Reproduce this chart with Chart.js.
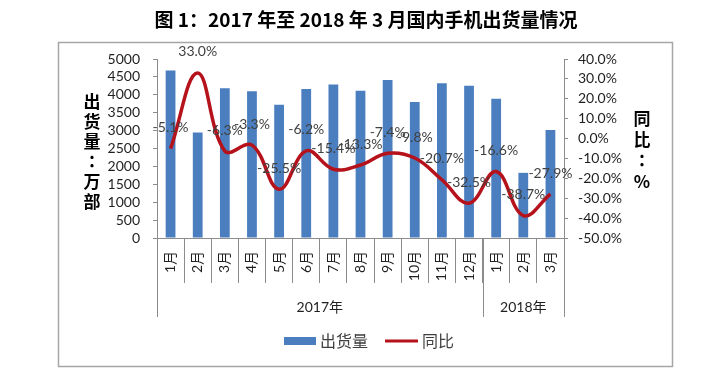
<!DOCTYPE html>
<html>
<head>
<meta charset="utf-8">
<script src="https://cdn.jsdelivr.net/npm/chart.js@4.4.0/dist/chart.umd.min.js"></script>
<style>
  body { margin: 0; background: #fff; }
  #wrap { width: 720px; height: 378px; }
</style>
</head>
<body>
<div id="wrap"><canvas id="myChart" width="720" height="378"></canvas></div>
<script>
// texts
const chartTitle = '图 1：2017 年至 2018 年 3 月国内手机出货量情况';
const leftTitle = ['出', '货', '量', '：', '万', '部'];
const rightTitle = ['同', '比', '：', '%'];

// months on the x axis, and the years grouping them
const months = ['1月', '2月', '3月', '4月', '5月', '6月', '7月', '8月', '9月', '10月', '11月', '12月', '1月', '2月', '3月'];
const years = ['2017年', '2018年'];
const yearSpans = [12, 3];

// shipments, 万部
const shipments = [4680, 2950, 4180, 4100, 3720, 4160, 4290, 4110, 4410, 3800, 4320, 4250, 3890, 1820, 3020];
// year on year change, %
const yoy = [-5.1, 33.0, -6.3, -3.3, -25.5, -6.2, -15.4, -13.3, -7.4, -9.8, -20.7, -32.5, -16.6, -38.7, -27.9];

// axis ranges
const leftRange = [0, 5000, 500];
const rightRange = [-50, 40, 10];

const barColor = '#4a7ebf';
const lineColor = '#b5121b';
const axisColor = '#8c8c8c';
const textColor = '#1f1f1f';
const latin = 'Lato, "Noto Sans CJK SC", sans-serif';

// extra drawing: frame, titles, year groups, value labels, legend
const extras = {
	id: 'extras',
	beforeDraw(chart) {
		const c = chart.ctx;
		c.save();
		c.strokeStyle = '#a6a6a6';
		c.lineWidth = 1.5;
		c.strokeRect(58.5, 42.5, 614, 324);
		c.restore();
	},
	afterDraw(chart) {
		const c = chart.ctx;
		const x = chart.scales.x;
		const area = chart.chartArea;
		c.save();
		c.textAlign = 'center';
		c.textBaseline = 'middle';

		// title
		c.fillStyle = '#000';
		c.font = 'bold 19px "Noto Sans CJK SC"';
		c.fillText(chartTitle, 366, 20);

		// axis titles, one character under the other
		c.font = 'bold 17px "Noto Sans CJK TC"';
		leftTitle.forEach((ch, i) => c.fillText(ch, 92, 102 + i * 20));
		rightTitle.forEach((ch, i) => c.fillText(ch, 642, 119 + i * 21));

		// year groups below the months
		const half = (x.getPixelForValue(1) - x.getPixelForValue(0)) / 2;
		c.strokeStyle = axisColor;
		c.lineWidth = 1;
		c.font = '14px ' + latin;
		c.fillStyle = textColor;
		let start = 0;
		years.forEach((yr, i) => {
			const left = x.getPixelForValue(start) - half;
			const right = x.getPixelForValue(start + yearSpans[i] - 1) + half;
			c.beginPath();
			c.moveTo(Math.round(left) + 0.5, area.bottom);
			c.lineTo(Math.round(left) + 0.5, area.bottom + 79);
			if (i === years.length - 1) {
				c.moveTo(Math.round(right) + 0.5, area.bottom);
				c.lineTo(Math.round(right) + 0.5, area.bottom + 79);
			}
			c.stroke();
			c.fillText(yr, (left + right) / 2, area.bottom + 69);
			start += yearSpans[i];
		});

		// labels over the line points
		c.fillStyle = '#404040';
		c.font = '14px ' + latin;
		const meta = chart.getDatasetMeta(0);
		meta.data.forEach((pt, i) => {
			c.fillText(yoy[i].toFixed(1) + '%', pt.x, pt.y - 21);
		});

		// legend
		c.textAlign = 'left';
		c.font = '16px "Noto Sans CJK SC"';
		c.fillStyle = barColor;
		c.fillRect(284, 337, 32, 8);
		c.fillStyle = '#404040';
		c.fillText('出货量', 320, 341);
		c.strokeStyle = lineColor;
		c.lineWidth = 3;
		c.beginPath();
		c.moveTo(385, 341);
		c.lineTo(418, 341);
		c.stroke();
		c.fillText('同比', 422, 341);
		c.restore();
	}
};

const myChart = document.getElementById('myChart');

new Chart(myChart, {
	type: 'bar',
	data: {
		labels: months,
		datasets: [
			{
				type: 'line',
				label: '同比',
				data: yoy,
				yAxisID: 'y1',
				borderColor: lineColor,
				borderWidth: 3.5,
				pointRadius: 0,
				tension: 0.4,
				order: 0
			},
			{
				type: 'bar',
				label: '出货量',
				data: shipments,
				yAxisID: 'y',
				backgroundColor: barColor,
				barPercentage: 0.36,
				categoryPercentage: 1,
				order: 1
			}
		]
	},
	options: {
		responsive: false,
		animation: false,
		layout: { padding: { top: 59, left: 0, right: 0, bottom: 0 } },
		plugins: {
			legend: { display: false },
			tooltip: { enabled: false }
		},
		scales: {
			x: {
				offset: true,
				grid: { offset: true, drawOnChartArea: false, tickLength: 45, color: axisColor },
				border: { color: axisColor },
				ticks: {
					autoSkip: false,
					minRotation: 90,
					maxRotation: 90,
					padding: -32,
					color: textColor,
					font: { family: latin, size: 14 }
				},
				afterFit: s => { s.height = 140; }
			},
			y: {
				position: 'left',
				min: leftRange[0],
				max: leftRange[1],
				grid: { drawOnChartArea: false, tickLength: 4, color: axisColor },
				border: { color: axisColor },
				ticks: {
					autoSkip: false,
					stepSize: leftRange[2],
					padding: 13,
					color: textColor,
					font: { family: latin, size: 14 },
					callback: v => String(v)
				},
				afterFit: s => { s.width = 157; }
			},
			y1: {
				position: 'right',
				min: rightRange[0],
				max: rightRange[1],
				grid: { drawOnChartArea: false, tickLength: 4, color: axisColor },
				border: { color: axisColor },
				ticks: {
					autoSkip: false,
					stepSize: rightRange[2],
					padding: 10,
					color: textColor,
					font: { family: latin, size: 14 },
					callback: v => v.toFixed(1) + '%'
				},
				afterFit: s => { s.width = 156; }
			}
		}
	},
	plugins: [extras]
});
</script>
</body>
</html>
